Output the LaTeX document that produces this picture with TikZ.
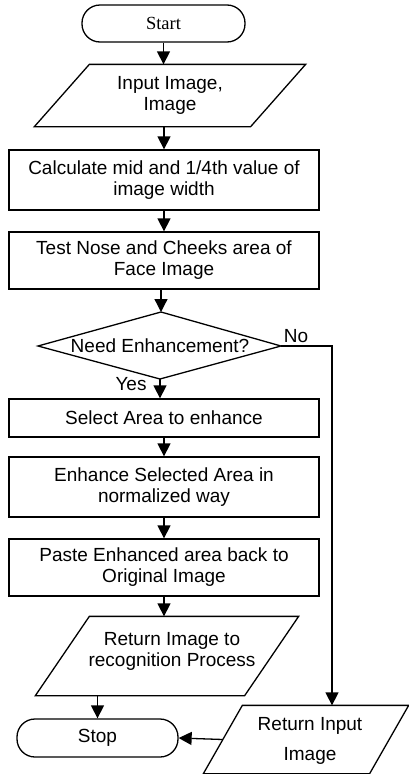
\documentclass[tikz,border=0pt]{standalone}
\usepackage{fontspec}
\setmainfont{Liberation Sans}
\newfontfamily\serifnm{Liberation Serif}
\usetikzlibrary{arrows.meta}
\newcommand{\fs}{\fontsize{19}{21}\selectfont}
\begin{document}
\begin{tikzpicture}[x=1pt,y=-1pt,line width=1.3pt,
  box/.style={draw, minimum width=310pt, inner sep=0pt, align=center, font=\fs},
  term/.style={draw, rounded corners=18pt, inner sep=0pt, align=center},
  ptext/.style={inner sep=0pt, align=center, font=\fs},
  lbl/.style={inner sep=0pt, font=\fs},
  arr/.style={-{Triangle[length=13pt,width=13pt]}}]
\useasboundingbox (0,0) rectangle (409,774);
% nodes
\node[term, minimum width=163pt, minimum height=37pt, font=\serifnm\fontsize{18.5}{21}\selectfont] (start) at (163.5,23.5) {Start};
\node[ptext, minimum width=270pt, minimum height=61pt] (in) at (170,95.5) {Input Image,\\Image};
\draw ([xshift=55pt]in.north west) -- (in.north east) -- ([xshift=-55pt]in.south east) -- (in.south west) -- cycle;
\node[box, minimum height=60pt] (calc) at (164,180) {Calculate mid and 1/4th value of\\image width};
\node[box, minimum height=57pt] (test) at (164,260.5) {Test Nose and Cheeks area of\\Face Image};
\coordinate (dt) at (161,312);
\coordinate (db) at (160,379);
\coordinate (dl) at (38,346);
\coordinate (dr) at (281,346);
\draw (dt) -- (dr) -- (db) -- (dl) -- cycle;
\node[lbl] (dec) at (160,346) {Need Enhancement?};
\node[box, minimum height=38pt] (sel) at (164,418) {Select Area to enhance};
\node[box, minimum height=60pt] (enh) at (164,487) {Enhance Selected Area in\\normalized way};
\node[box, minimum height=57pt] (paste) at (164,567.5) {Paste Enhanced area back to\\Original Image};
\node[ptext, minimum width=262pt, minimum height=78pt] (ri) at (167,656) {};
\node[ptext] (ritext) at (172,651) {Return Image to\\recognition Process};
\draw ([xshift=54pt]ri.north west) -- (ri.north east) -- ([xshift=-54pt]ri.south east) -- (ri.south west) -- cycle;
\node[term, minimum width=161pt, minimum height=38pt, font=\fs] (stop) at (97.5,738) {Stop};
\node[ptext, minimum width=204pt, minimum height=67pt] (rin) at (306,739.5) {};
\node[ptext] (rintext) at (310,741) {Return Input\\[9pt]Image};
\draw ([xshift=39pt]rin.north west) -- (rin.north east) -- ([xshift=-39pt]rin.south east) -- (rin.south west) -- cycle;
\node[lbl] (yes) at (131,384) {Yes};
\node[lbl] (no) at (296,336) {No};
\coordinate (nb) at (332,346);
% connectors
\draw[arr] (start.south) -- (start.south |- in.north);
\draw[arr] (in.south -| calc.north) -- (calc.north);
\draw[arr] (calc.south) -- (test.north);
\draw[arr] (test.south -| dt) -- (dt);
\draw[arr] (db) -- (db |- sel.north);
\draw[arr] (sel.south) -- (enh.north);
\draw[arr] (enh.south) -- (paste.north);
\draw[arr] (paste.south) -- (paste.south |- ri.north);
\draw[arr] (stop.north |- ri.south) -- (stop.north);
\draw[arr] (dr) -- (nb) -- (nb |- rin.north);
\draw[arr] ([xshift=19.5pt]rin.west) -- (stop.east);
\end{tikzpicture}
\end{document}
